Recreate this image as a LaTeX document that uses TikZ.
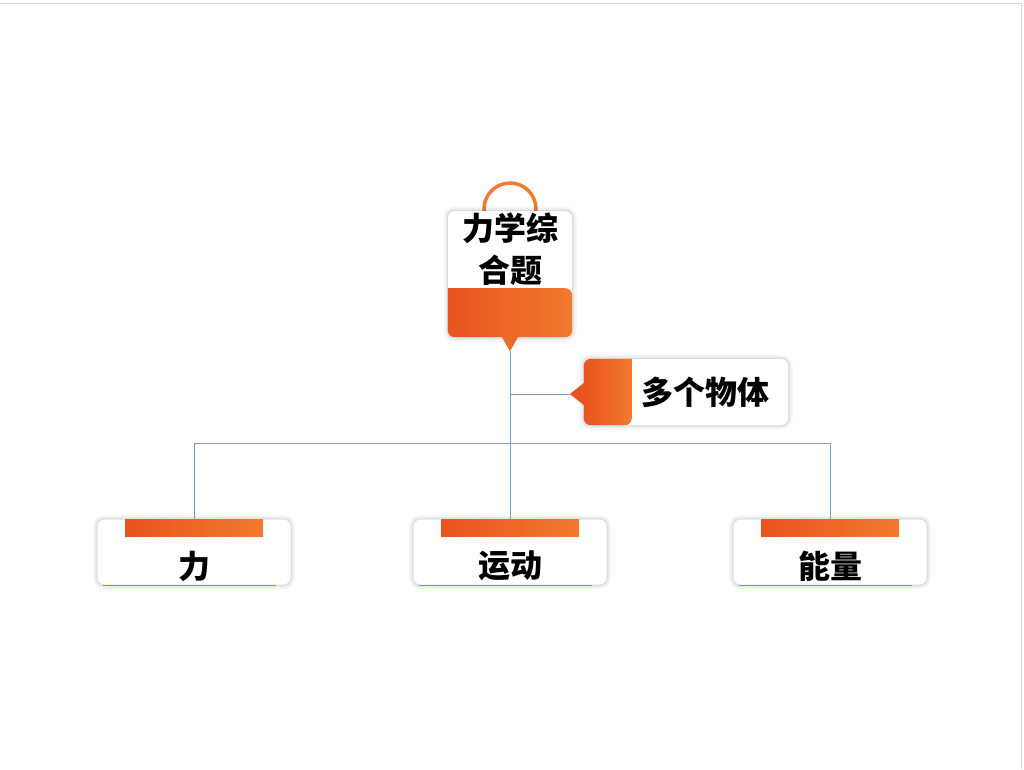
\documentclass[tikz,border=0pt]{standalone}
\usepackage{fontspec}
\newfontfamily\cjk{Noto Sans CJK SC}

\definecolor{tipred}{HTML}{E9531F}
\definecolor{tiporange}{HTML}{F17A2E}
\definecolor{linkblue}{HTML}{7C9DBF}

\tikzset{
  % white card with a soft glow round it
  card/.style={fill=white, rounded corners=7pt, inner sep=0pt,
    preaction={draw=black, opacity=0.04, line width=9pt},
    preaction={draw=black, opacity=0.05, line width=5pt},
    preaction={draw=black, opacity=0.06, line width=2pt}},
  orangefill/.style={left color=tipred, right color=tiporange},
  link/.style={draw=linkblue, line width=0.8pt},
  cardtext/.style={font=\cjk\bfseries\fontsize{32}{42}\selectfont, align=center, inner sep=0pt}
}

\begin{document}
\begin{tikzpicture}[x=1pt,y=-1pt]
  % page frame
  \useasboundingbox (0,0) rectangle (1024,769);
  \draw[black!15, line width=1pt] (0,3) -- (1021,3) -- (1021,769);

  % root card with its handle on top
  \draw[tiporange, line width=3.5pt] (510,209) circle (26);
  \node[card, minimum width=124pt, minimum height=126pt] (root) at (510,274) {};
  \shade[orangefill] ([yshift=49pt]root.south west) [rounded corners=7pt]
    -- (root.south west) -- (root.south east) -- ([yshift=49pt]root.south east)
    [sharp corners] -- cycle;
  \coordinate (rootTip) at ([yshift=-14pt]root.south);
  \fill[tipred!40!tiporange] ([xshift=-8pt]root.south) -- ([xshift=8pt]root.south) -- (rootTip) -- cycle;
  \node[cardtext] (rootText) at (510,249) {力学综\\合题};

  % side card
  \node[card, minimum width=204pt, minimum height=66pt] (multi) at (686,392) {};
  \shade[orangefill] ([xshift=48pt]multi.north west) [rounded corners=7pt]
    -- (multi.north west) -- (multi.south west) -- ([xshift=48pt]multi.south west)
    [sharp corners] -- cycle;
  \coordinate (multiTip) at ([xshift=-14pt,yshift=-2pt]multi.west);
  \fill[tipred] ([yshift=9pt]multi.west) -- ([yshift=-13pt]multi.west) -- (multiTip) -- cycle;
  \node[cardtext] (multiText) at (705,392) {多个物体};

  % bottom cards
  \foreach \name/\x/\txt in {force/194/力, motion/510/运动, energy/830/能量} {
    \node[card, minimum width=193pt, minimum height=65pt] (\name) at (\x,552) {};
    \shade[orangefill] ([xshift=-69pt]\name.north) rectangle ([xshift=69pt,yshift=-17pt]\name.north);
    \draw[tiporange, line width=1pt] ([xshift=6pt,yshift=-1pt]\name.south west) -- ([xshift=-15pt,yshift=-1pt]\name.south east);
    \node[cardtext] (\name Text) at (\x,566) {\txt};
  }

  % connectors
  \coordinate (bus) at (510,443);
  \coordinate (branch) at (510,394);
  \draw[link] (rootTip) -- (motion.north);
  \draw[link] (branch) -- (multiTip);
  \draw[link] (force.north) |- (bus) -| (energy.north);
\end{tikzpicture}
\end{document}
